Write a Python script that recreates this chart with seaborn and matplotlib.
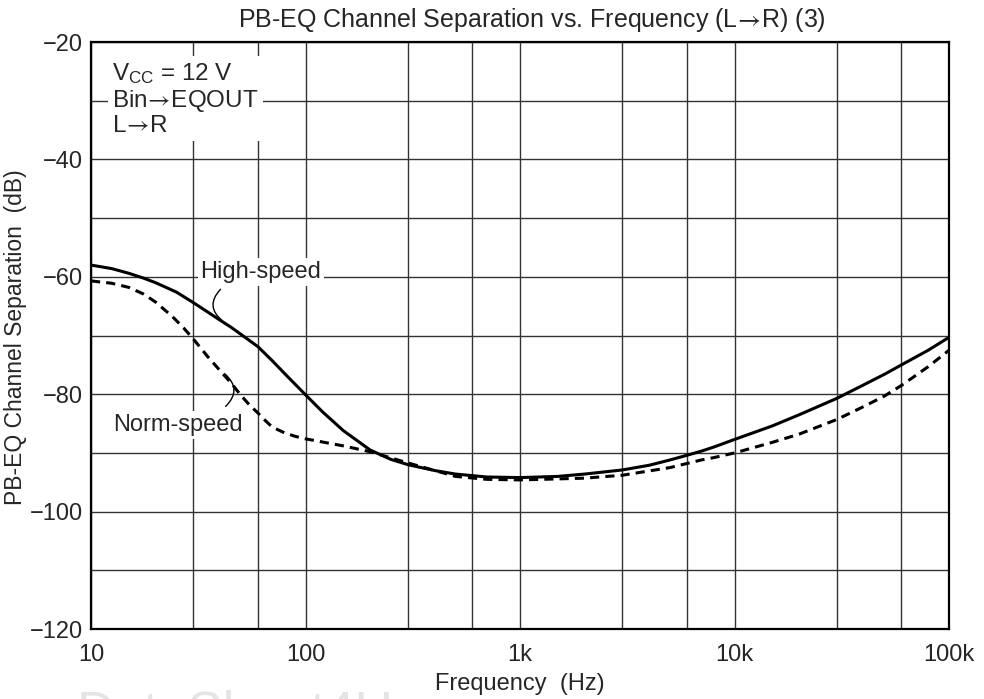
import matplotlib
matplotlib.use("Agg")
import matplotlib.pyplot as plt
import seaborn as sns
import pandas as pd

# --- dane ---
freq_hs = [10, 12.5, 15, 17.5, 20, 25, 30, 35, 40, 45, 50, 60, 70, 80, 90, 100, 120, 150,
           200, 250, 300, 400, 500, 700, 1000, 1500, 2000, 3000, 4000, 5000, 6000, 7000,
           8000, 10000, 15000, 20000, 30000, 40000, 50000, 60000, 80000, 100000]
high_speed = [-58.0, -58.6, -59.4, -60.2, -61.0, -62.6, -64.4, -66.0, -67.4, -68.6, -69.8,
              -71.9, -74.3, -76.5, -78.4, -80.1, -83.0, -86.2, -89.5, -91.1, -92.0, -93.0,
              -93.6, -94.1, -94.2, -94.0, -93.6, -92.9, -92.1, -91.2, -90.4, -89.7, -89.0,
              -87.7, -85.4, -83.5, -80.7, -78.4, -76.6, -75.0, -72.5, -70.3]

freq_ns = [10, 12.5, 15, 17.5, 20, 24, 27, 30, 35, 40, 45, 50, 55, 60, 65, 70, 80, 90, 100,
           150, 200, 300, 500, 700, 1000, 2000, 3000, 5000, 6000, 7000, 8000, 10000, 15000,
           20000, 30000, 40000, 50000, 60000, 80000, 100000]
norm_speed = [-60.7, -61.1, -61.8, -62.9, -64.3, -66.8, -68.7, -70.6, -73.6, -76.0, -78.1,
              -80.2, -81.9, -83.2, -84.5, -85.6, -86.6, -87.2, -87.6, -88.8, -89.8, -91.7,
              -94.0, -94.5, -94.6, -94.3, -93.8, -92.5, -91.8, -91.2, -90.8, -90.0, -88.2,
              -86.8, -84.3, -82.1, -80.3, -78.5, -75.3, -72.5]

x_ticks = [10, 100, 1000, 10000, 100000]
x_tick_labels = ['10', '100', '1k', '10k', '100k']
x_grid = [10, 30, 60, 100, 300, 600, 1000, 3000, 6000, 10000, 30000, 60000, 100000]
y_ticks = [-20, -40, -60, -80, -100, -120]
y_tick_labels = ['\u221220', '\u221240', '\u221260', '\u221280', '\u2212100', '\u2212120']
y_grid = list(range(-120, -10, 10))

df_hs = pd.DataFrame({'freq': freq_hs, 'sep': high_speed})
df_ns = pd.DataFrame({'freq': freq_ns, 'sep': norm_speed})

sns.set_style('white')
plt.rcParams['font.family'] = ['Liberation Sans', 'DejaVu Sans']
plt.rcParams['mathtext.fontset'] = 'custom'
plt.rcParams['mathtext.rm'] = 'Liberation Sans'
plt.rcParams['mathtext.it'] = 'Liberation Sans:italic'
plt.rcParams['mathtext.sf'] = 'STIXGeneral'

# strzalka bez odstepow wokol (mathtext dodaje je przy relacjach)
ARR = '$\\!\\mathsf{\\rightarrow}\\!$'

fig = plt.figure(figsize=(9.84, 6.99), dpi=100)
ax = fig.add_axes([0.0925, 0.1001, 0.872, 0.8398])

ax.set_xscale('log')
ax.set_xlim(10, 100000)
ax.set_ylim(-120, -20)

# siatka
for gx in x_grid:
    ax.axvline(gx, color='#333333', lw=1.0, zorder=1)
for gy in y_grid:
    ax.axhline(gy, color='#333333', lw=1.0, zorder=1)

sns.lineplot(data=df_hs, x='freq', y='sep', ax=ax, color='black', lw=2.2, zorder=4)
sns.lineplot(data=df_ns, x='freq', y='sep', ax=ax, color='black', lw=2.2,
             linestyle=(0, (3, 2)), zorder=4)

ax.set_xticks(x_ticks)
ax.set_xticklabels(x_tick_labels)
ax.xaxis.set_minor_locator(matplotlib.ticker.NullLocator())
ax.set_yticks(y_ticks)
ax.set_yticklabels(y_tick_labels)
ax.tick_params(axis='both', length=0, labelsize=17)
ax.tick_params(axis='x', pad=11)
ax.tick_params(axis='y', pad=6)

for s in ax.spines.values():
    s.set_color('black')
    s.set_linewidth(1.6)
    s.set_zorder(6)

ax.set_xlabel('Frequency  (Hz)', fontsize=17, labelpad=5)
ax.set_ylabel('')
fig.text(0.0155, 0.517, 'PB-EQ Channel Separation  (dB)', rotation=90,
         ha='center', va='center', fontsize=16.5)
fig.text(0.541, 0.972, 'PB-EQ Channel Separation vs. Frequency (L' + ARR + 'R) (3)',
         ha='center', va='center', fontsize=18)

# opis warunkow
ax.text(0.025, 0.968, 'V$_{\\rm CC}$ = 12 V\nBin' + ARR + 'EQOUT\nL' + ARR + 'R',
        transform=ax.transAxes, ha='left', va='top', fontsize=17.5, linespacing=1.1,
        bbox=dict(facecolor='white', edgecolor='none', pad=3), zorder=5)

# etykiety krzywych
ax.text(62, -59.2, 'High-speed', ha='center', va='center', fontsize=17,
        bbox=dict(facecolor='white', edgecolor='none', pad=2), zorder=5)
ax.text(25.5, -85.2, 'Norm-speed', ha='center', va='center', fontsize=17,
        bbox=dict(facecolor='white', edgecolor='none', pad=2), zorder=5)
ax.annotate('', xy=(42, -67.8), xytext=(41, -61.8),
            arrowprops=dict(arrowstyle='-', lw=1.0, color='black',
                            connectionstyle='arc3,rad=0.6'), zorder=5)
ax.annotate('', xy=(41, -76.2), xytext=(41.5, -82.4),
            arrowprops=dict(arrowstyle='-', lw=1.0, color='black',
                            connectionstyle='arc3,rad=0.6'), zorder=5)

# znak wodny
fig.text(0.078, 0.013, 'DataSheet4U', ha='left', va='top', fontsize=38,
         color='#e4e4e4')

fig.savefig('out.png', dpi=100)
